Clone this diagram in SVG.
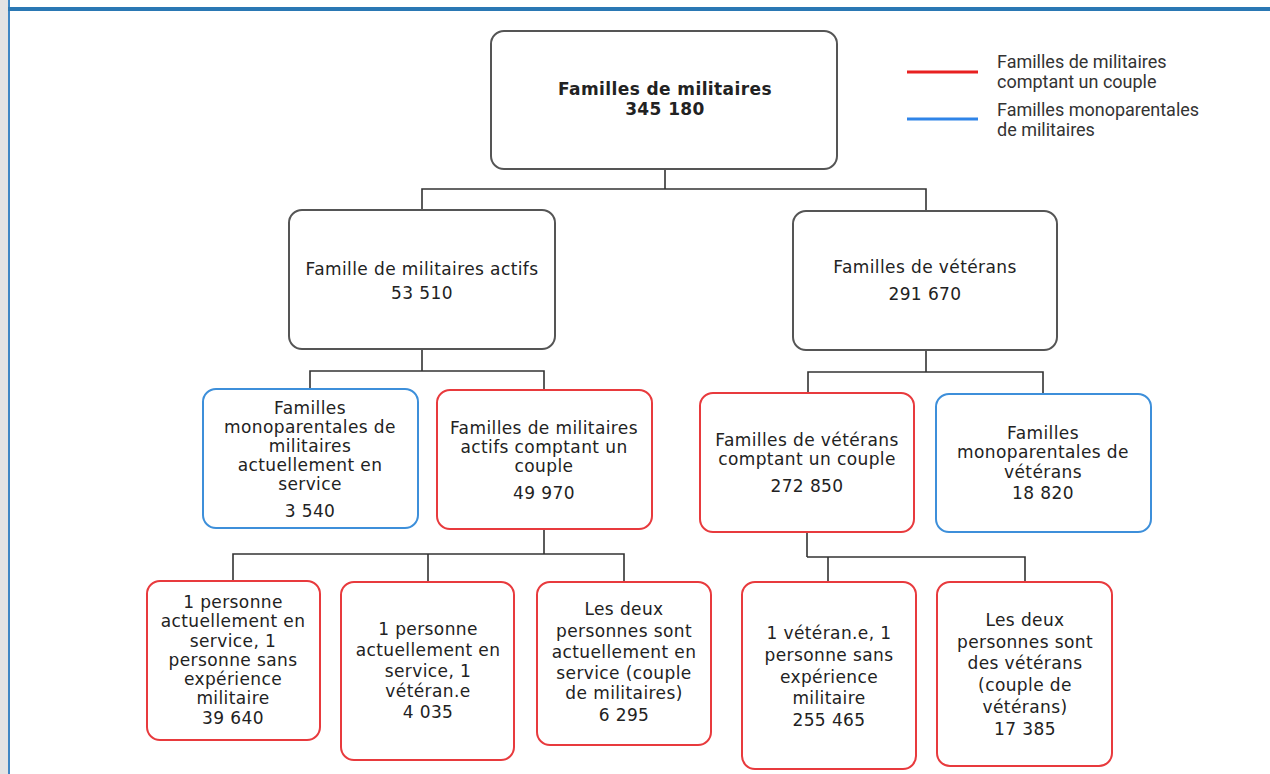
<svg xmlns="http://www.w3.org/2000/svg" width="1270" height="774" viewBox="0 0 1270 774">
<style>
.box{fill:#fff;stroke-width:2}
.g{stroke:#555}
.r{stroke:#e83a3d}
.b{stroke:#3d8fda}
.t{font-family:"DejaVu Sans",Verdana,sans-serif;font-size:17px;letter-spacing:0.4px;fill:#222;text-anchor:middle}
.bold{font-weight:bold}
.lg{font-family:Roboto,"Liberation Sans",sans-serif;font-size:18px;fill:#333}
.conn{fill:none;stroke:#333;stroke-width:1.6}
</style>
<rect x="0" y="0" width="1270" height="774" fill="#fff"/>
<rect x="0" y="0" width="8" height="774" fill="#e3e3e4"/>
<rect x="8" y="0" width="2" height="774" fill="#3f86c4"/>
<rect x="8" y="7" width="1262" height="4" fill="#2a78b4"/>

<g id="connectors">
<path class="conn" d="M665 169V189M422 210V189H926V211"/>
<path class="conn" d="M422 349V371M310 390V371H544V390"/>
<path class="conn" d="M926 350V372M808 393V372H1043V394"/>
<path class="conn" d="M544 529V554M233 581V554H624V582M428 554V582"/>
<path class="conn" d="M807 532V557M828 557V583M807 557H1025V583"/>
</g>

<g id="legend">
<line x1="907" y1="72" x2="978" y2="72" stroke="#e82020" stroke-width="3"/>
<line x1="907" y1="119" x2="978" y2="119" stroke="#2f84e8" stroke-width="3"/>
<text class="lg" x="997" y="68">Familles de militaires</text>
<text class="lg" x="997" y="88">comptant un couple</text>
<text class="lg" x="997" y="116">Familles monoparentales</text>
<text class="lg" x="997" y="136">de militaires</text>
</g>

<g id="n-root">
<rect class="box g" x="491" y="31" width="346" height="138" rx="13"/>
<text class="t bold" x="665" y="95">Familles de militaires</text>
<text class="t bold" x="665" y="115">345 180</text>
</g>

<g id="n-actifs">
<rect class="box g" x="289" y="210" width="266" height="139" rx="13"/>
<text class="t" x="422" y="275">Famille de militaires actifs</text>
<text class="t" x="422" y="299">53 510</text>
</g>

<g id="n-veterans">
<rect class="box g" x="793" y="211" width="264" height="139" rx="13"/>
<text class="t" x="925" y="273">Familles de vétérans</text>
<text class="t" x="925" y="300">291 670</text>
</g>

<g id="n-mono-actifs">
<rect class="box b" x="203" y="389" width="215" height="139" rx="13"/>
<text class="t" x="310" y="414">Familles</text>
<text class="t" x="310" y="433">monoparentales de</text>
<text class="t" x="310" y="452">militaires</text>
<text class="t" x="310" y="471">actuellement en</text>
<text class="t" x="310" y="490">service</text>
<text class="t" x="310" y="517">3 540</text>
</g>

<g id="n-couple-actifs">
<rect class="box r" x="437" y="390" width="215" height="139" rx="13"/>
<text class="t" x="544" y="434">Familles de militaires</text>
<text class="t" x="544" y="453">actifs comptant un</text>
<text class="t" x="544" y="472">couple</text>
<text class="t" x="544" y="499">49 970</text>
</g>

<g id="n-couple-vet">
<rect class="box r" x="700" y="393" width="214" height="139" rx="13"/>
<text class="t" x="807" y="446">Familles de vétérans</text>
<text class="t" x="807" y="465">comptant un couple</text>
<text class="t" x="807" y="492">272 850</text>
</g>

<g id="n-mono-vet">
<rect class="box b" x="936" y="394" width="215" height="138" rx="13"/>
<text class="t" x="1043" y="439">Familles</text>
<text class="t" x="1043" y="458">monoparentales de</text>
<text class="t" x="1043" y="478">vétérans</text>
<text class="t" x="1043" y="499">18 820</text>
</g>

<g id="n-a1">
<rect class="box r" x="147" y="581" width="173" height="159" rx="13"/>
<text class="t" x="233" y="608">1 personne</text>
<text class="t" x="233" y="627">actuellement en</text>
<text class="t" x="233" y="647">service, 1</text>
<text class="t" x="233" y="666">personne sans</text>
<text class="t" x="233" y="685">expérience</text>
<text class="t" x="233" y="704">militaire</text>
<text class="t" x="233" y="724">39 640</text>
</g>

<g id="n-a2">
<rect class="box r" x="341" y="582" width="173" height="178" rx="13"/>
<text class="t" x="428" y="635">1 personne</text>
<text class="t" x="428" y="656">actuellement en</text>
<text class="t" x="428" y="677">service, 1</text>
<text class="t" x="428" y="697">vétéran.e</text>
<text class="t" x="428" y="718">4 035</text>
</g>

<g id="n-a3">
<rect class="box r" x="537" y="582" width="174" height="163" rx="13"/>
<text class="t" x="624" y="615">Les deux</text>
<text class="t" x="624" y="637">personnes sont</text>
<text class="t" x="624" y="658">actuellement en</text>
<text class="t" x="624" y="679">service (couple</text>
<text class="t" x="624" y="699">de militaires)</text>
<text class="t" x="624" y="721">6 295</text>
</g>

<g id="n-v1">
<rect class="box r" x="742" y="582" width="174" height="187" rx="13"/>
<text class="t" x="829" y="639">1 vétéran.e, 1</text>
<text class="t" x="829" y="661">personne sans</text>
<text class="t" x="829" y="683">expérience</text>
<text class="t" x="829" y="704">militaire</text>
<text class="t" x="829" y="726">255 465</text>
</g>

<g id="n-v2">
<rect class="box r" x="937" y="582" width="175" height="184" rx="13"/>
<text class="t" x="1025" y="626">Les deux</text>
<text class="t" x="1025" y="648">personnes sont</text>
<text class="t" x="1025" y="669">des vétérans</text>
<text class="t" x="1025" y="691">(couple de</text>
<text class="t" x="1025" y="713">vétérans)</text>
<text class="t" x="1025" y="735">17 385</text>
</g>
</svg>
